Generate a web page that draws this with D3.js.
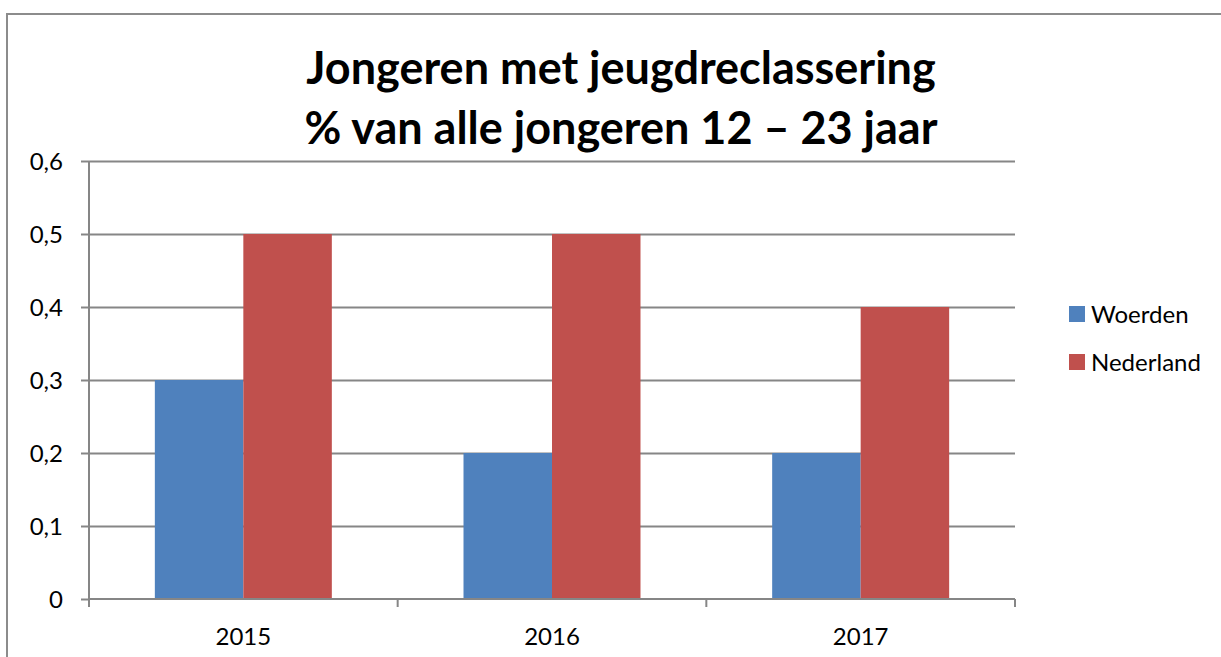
<!DOCTYPE html>
<html>
<head>
<meta charset="utf-8">
<script src="https://cdn.jsdelivr.net/npm/d3@7"></script>
<style>
  body { margin: 0; background: #fff; }
  text { font-family: Lato, "Open Sans", sans-serif; fill: #000; }
</style>
</head>
<body>
<div id="chart"></div>
<script>
const years = ['2015', '2016', '2017'];
const seriesNames = ['Woerden', 'Nederland'];
const woerden = [0.3, 0.2, 0.2];
const nederland = [0.5, 0.5, 0.4];
const yTicks = [0, 0.1, 0.2, 0.3, 0.4, 0.5, 0.6];
const titleLines = ['Jongeren met jeugdreclassering', '% van alle jongeren 12 \u2013 23 jaar'];

const width = 1221;
const height = 657;
const plot = { left: 89, right: 1015, top: 161, bottom: 599 };

const data = years.map((y, i) => ({ year: y, Woerden: woerden[i], Nederland: nederland[i] }));

const svg = d3.select('#chart')
  .append('svg')
  .attr('width', width)
  .attr('height', height);

// outer chart border
svg.append('rect')
  .attr('x', 7)
  .attr('y', 14)
  .attr('width', 1240)
  .attr('height', 700)
  .attr('fill', 'none')
  .attr('stroke', '#8c8c8c')
  .attr('stroke-width', 2);

const x0 = d3.scaleBand()
  .domain(years)
  .range([plot.left, plot.right])
  .paddingInner(0.4266)
  .paddingOuter(0.2133);

const x1 = d3.scaleBand()
  .domain(seriesNames)
  .range([0, x0.bandwidth()]);

const y = d3.scaleLinear()
  .domain([0, 0.6])
  .range([plot.bottom, plot.top]);

const color = d3.scaleOrdinal()
  .domain(seriesNames)
  .range(['#4f81bd', '#c0504d']);

const fmt = d => d === 0 ? '0' : d3.format('.1f')(d).replace('.', ',');

// gridlines + y axis
const yAxis = svg.append('g')
  .attr('transform', `translate(${plot.left},0)`)
  .call(d3.axisLeft(y)
    .tickValues(yTicks)
    .tickSize(8)
    .tickFormat(fmt));
yAxis.select('.domain').attr('stroke', '#868686').attr('stroke-width', 2)
  .attr('d', `M0,${plot.top}V${plot.bottom}`);
yAxis.selectAll('line').attr('stroke', '#868686').attr('stroke-width', 2);
yAxis.selectAll('text')
  .attr('x', -26)
  .attr('dy', '0.34em')
  .style('font-size', '24px')
  .style('font-family', 'Lato, "Open Sans", sans-serif');

svg.append('g')
  .attr('transform', `translate(${plot.left},0)`)
  .call(d3.axisLeft(y)
    .tickValues(yTicks.filter(t => t > 0))
    .tickSize(-(plot.right - plot.left))
    .tickFormat(''))
  .call(g => g.select('.domain').remove())
  .selectAll('line')
  .attr('stroke', '#868686')
  .attr('stroke-width', 2);

// bars
svg.append('g')
  .selectAll('g')
  .data(data)
  .join('g')
  .attr('transform', d => `translate(${x0(d.year)},0)`)
  .selectAll('rect')
  .data(d => seriesNames.map(k => ({ key: k, value: d[k] })))
  .join('rect')
  .attr('x', d => x1(d.key))
  .attr('y', d => y(d.value))
  .attr('width', x1.bandwidth())
  .attr('height', d => y(0) - y(d.value))
  .attr('fill', d => color(d.key));

// x axis
const step = x0.step();
const catEdges = [plot.left].concat(years.map(yr => x0(yr) - x0.paddingOuter() * step + step));
const xAxis = svg.append('g')
  .attr('transform', `translate(0,${plot.bottom})`);
xAxis.append('line')
  .attr('x1', plot.left).attr('x2', plot.right)
  .attr('stroke', '#868686').attr('stroke-width', 2);
xAxis.selectAll('.tk')
  .data(catEdges)
  .join('line')
  .attr('class', 'tk')
  .attr('x1', d => d).attr('x2', d => d)
  .attr('y1', 0).attr('y2', 8)
  .attr('stroke', '#868686').attr('stroke-width', 2);
xAxis.selectAll('.lbl')
  .data(years)
  .join('text')
  .attr('class', 'lbl')
  .attr('x', d => x0(d) + x0.bandwidth() / 2)
  .attr('y', 46)
  .attr('text-anchor', 'middle')
  .style('font-size', '24px')
  .text(d => d);

// title
svg.append('g')
  .selectAll('text')
  .data(titleLines)
  .join('text')
  .attr('x', 621)
  .attr('y', (d, i) => 84 + i * 60)
  .attr('text-anchor', 'middle')
  .style('font-size', '45px')
  .style('font-weight', 'bold')
  .text(d => d);

// legend
const legend = svg.append('g')
  .attr('transform', 'translate(1069,306)');
seriesNames.forEach((key, i) => {
  const g = legend.append('g').attr('transform', `translate(0,${i * 48})`);
  g.append('rect')
    .attr('width', 16)
    .attr('height', 16)
    .attr('fill', color(key));
  g.append('text')
    .attr('x', 22)
    .attr('y', 17)
    .style('font-size', '24px')
    .text(key);
});
</script>
</body>
</html>
